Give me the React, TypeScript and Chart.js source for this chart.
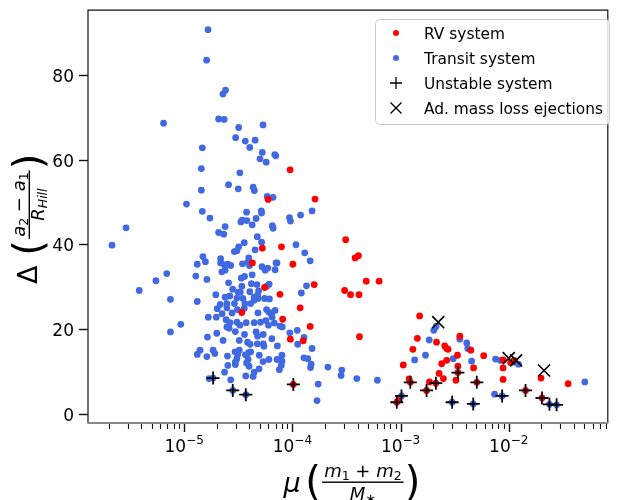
import React, { useEffect, useRef } from 'react';
import { Chart, registerables } from 'chart.js';

Chart.register(...registerables);

// ---- data ----
const transitMu = [
  1.66e-5, 1.61e-5, 2.28e-5, 2.41e-5, 6.44e-6, 2.08e-5, 2.34e-5, 3.19e-5, 5.35e-5, 2.99e-5,
  3.67e-5, 4.52e-5, 4.04e-5, 1.47e-5, 5.27e-5, 5.02e-5, 5.73e-5, 6.87e-5, 7.02e-5, 1.44e-5,
  3.27e-5, 2.57e-5, 3.16e-5, 1.44e-5, 4.34e-5, 4.45e-5, 1.05e-5, 5.85e-5, 6.63e-5, 1.47e-5,
  3.77e-5, 5.16e-5, 5.19e-5, 1.52e-4, 1.73e-5, 3.34e-5, 3.44e-5, 3.79e-5, 4.25e-5, 4.62e-5,
  9.4e-5, 9.6e-5, 1.19e-4, 6.53e-5, 6.63e-5, 2.9e-6, 2.39e-5, 2.08e-5, 2.32e-5, 4.74e-5,
  2.15e-6, 5.19e-5, 1.08e-4, 3.59e-5, 3.19e-5, 3.07e-5, 4.52e-5, 1.30e-4, 1.46e-4, 7.21e-5,
  1.21e-4, 1.35e-4, 1.11e-4, 1.28e-4, 1.12e-4, 1.52e-4, 1.28e-4, 1.39e-4, 1.49e-4, 1.47e-4,
  2.13e-4, 2.86e-4, 2.82e-4, 3.94e-4, 6.11e-4, 1.73e-4, 1.69e-4, 2.03e-3, 2.13e-3, 1.84e-3,
  3.53e-3, 4.09e-3, 4.18e-3, 1.70e-3, 1.35e-3, 3.07e-3, 4.54e-3, 7.55e-3, 1.23e-2, 1.12e-2,
  5.05e-2, 7.4e-3, 8.69e-3, 1.02e-3, 3.0e-3, 4.7e-3, 2.38e-2, 2.77e-2, 8.34e-3, 3.84e-6,
  5.48e-6, 6.9e-6, 7.46e-6, 7.46e-6, 9.29e-6, 1.32e-5, 1.49e-5, 1.32e-5, 1.28e-5, 1.62e-5,
  1.57e-5, 1.96e-5, 1.67e-5, 1.64e-5, 2.0e-5, 1.32e-5, 1.40e-5, 1.62e-5, 1.85e-5, 1.92e-5,
  2.36e-5, 2.69e-5, 2.53e-5, 2.51e-5, 2.91e-5, 2.17e-5, 2.17e-5, 2.53e-5, 2.69e-5, 2.34e-5,
  3.46e-5, 3.95e-5, 3.85e-5, 4.01e-5, 2.39e-5, 2.23e-5, 5.24e-5, 5.61e-5, 5.93e-5, 6.92e-5,
  7.06e-5, 2.57e-5, 3.37e-5, 3.61e-5, 4.25e-5, 4.18e-5, 4.71e-5, 5.81e-5, 6.1e-5, 3.41e-5,
  3.30e-5, 3.16e-5, 2.81e-5, 4.87e-5, 4.04e-5, 2.39e-5, 2.64e-5, 3.07e-5, 3.49e-5, 4.43e-5,
  4.81e-5, 5.53e-5, 6.14e-5, 4.77e-5, 2.15e-5, 2.24e-5, 2.02e-5, 1.98e-5, 2.48e-5, 2.48e-5,
  2.44e-5, 2.77e-5, 2.65e-5, 2.91e-5, 3.10e-5, 3.64e-5, 3.59e-5, 3.07e-5, 3.27e-5, 3.74e-5,
  2.60e-5, 2.48e-5, 2.97e-5, 3.61e-5, 2.29e-5, 3.23e-5, 4.12e-5, 4.43e-5, 4.81e-5, 5.08e-5,
  4.43e-5, 4.62e-5, 4.77e-5, 5.38e-5, 5.77e-5, 6.06e-5, 6.4e-5, 5.69e-5, 6.01e-5, 6.5e-5,
  6.82e-5, 6.92e-5, 7.68e-5, 8.06e-5, 9.47e-5, 6.46e-5, 3.85e-5, 4.07e-5, 4.74e-5, 5.38e-5,
  5.46e-5, 7.26e-5, 2.95e-5, 3.23e-5, 3.12e-5, 3.67e-5, 3.93e-5, 4.12e-5, 4.94e-5, 8.01e-5,
  7.21e-5, 8.01e-5, 7.89e-5, 7.57e-5, 6.06e-5, 5.35e-5, 3.90e-5, 3.77e-5, 3.98e-5, 2.97e-5,
  3.07e-5, 2.97e-5, 4.92e-5, 4.43e-5, 4.34e-5, 3.71e-5, 1.70e-5, 1.85e-5, 2.81e-5, 3.71e-5,
];
const transitDelta = [
  90.7, 83.5, 75.5, 76.4, 68.6, 69.6, 69.5, 67.6, 68.2, 65.2,
  64.4, 64.6, 62.9, 62.8, 61.7, 60.2, 59.4, 61.2, 60.9, 57.9,
  56.9, 54.1, 53.1, 52.8, 53.5, 52.7, 49.5, 51.3, 51.1, 47.8,
  47.6, 47.9, 47.4, 47.9, 46.2, 45.3, 45.7, 45.6, 44.6, 46.1,
  46.3, 45.5, 46.9, 44.4, 43.8, 43.9, 44.2, 42.8, 42.4, 41.8,
  39.8, 40.5, 39.9, 40.4, 39.4, 38.5, 38.7, 38.0, 36.1, 35.6,
  28.5, 30.2, 19.7, 18.0, 16.4, 15.4, 13.2, 13.0, 11.7, 10.9,
  11.0, 10.3, 9.0, 8.3, 7.9, 7.0, 3.1, 19.7, 20.6, 17.4,
  17.6, 16.7, 15.4, 13.8, 12.7, 13.0, 12.4, 12.9, 11.7, 12.2,
  7.5, 4.6, 4.2, 4.2, 2.7, 2.3, 2.2, 2.1, 12.6, 29.1,
  31.4, 33.1, 27.0, 19.3, 21.1, 35.3, 37.1, 26.5, 32.5, 31.7,
  35.9, 28.1, 22.8, 18.1, 19.0, 14.0, 15.0, 13.5, 15.0, 14.2,
  9.8, 8.0, 11.4, 13.6, 38.3, 36.6, 35.6, 35.3, 35.0, 35.2,
  35.4, 36.8, 35.7, 35.0, 33.9, 33.5, 34.7, 33.9, 34.4, 34.0,
  35.6, 30.9, 32.0, 32.4, 32.8, 30.7, 30.5, 30.1, 30.6, 30.1,
  28.7, 28.7, 29.4, 29.0, 28.8, 27.5, 27.8, 27.3, 27.2, 27.5,
  27.2, 27.2, 27.1, 28.0, 25.8, 23.6, 24.8, 22.8, 26.0, 25.0,
  22.2, 23.8, 21.5, 26.0, 24.6, 26.0, 24.9, 21.6, 20.9, 21.5,
  20.2, 20.5, 19.4, 18.7, 17.3, 17.3, 26.0, 26.8, 23.8, 21.6,
  21.5, 19.3, 18.3, 18.7, 24.6, 24.0, 23.5, 22.0, 20.9, 22.8,
  21.4, 24.4, 20.7, 20.5, 19.1, 17.7, 16.9, 16.4, 16.5, 16.5,
  15.9, 16.0, 14.6, 15.0, 14.0, 13.9, 14.4, 14.6, 13.8, 13.8,
  12.8, 12.4, 11.4, 10.4, 12.8, 12.3, 12.8, 12.0, 11.2, 12.2,
  13.0, 11.6, 10.6, 9.8, 8.8, 8.9, 8.3, 8.4, 5.5, 4.5,
];

const rvMu = [
  9.53e-5, 5.97e-5, 1.62e-4, 3.11e-4, 5.27e-5, 7.93e-5, 1.01e-4, 3.8e-4, 4.08e-4, 4.82e-4,
  6.34e-4, 1.59e-4, 3.04e-4, 3.45e-4, 4.13e-4, 1.18e-4, 4.17e-4, 1.46e-4, 1.26e-4, 4.27e-5,
  5.53e-5, 7.68e-5, 8.13e-5, 9.57e-5, 3.41e-5, 1.50e-3, 1.43e-3, 2.15e-3, 3.53e-3, 4.47e-3,
  2.56e-3, 2.67e-3, 2.75e-3, 1.30e-3, 3.36e-3, 2.67e-3, 2.40e-3, 5.87e-3, 8.87e-3, 1.04e-2,
  1.12e-2, 1.06e-3, 3.39e-3, 4.73e-3, 8.87e-3, 1.99e-2, 2.27e-3, 2.49e-3, 3.25e-3, 8.87e-3,
  3.54e-2, 1.85e-3, 1.20e-3, 1.02e-4, 1.23e-3, 2.12e-3, 3.39e-3, 5.07e-3, 1.74e-3, 1.43e-2,
  9.23e-4, 2.03e-2, 9.55e-4,
];
const rvDelta = [
  57.6, 50.6, 50.7, 41.1, 39.1, 39.4, 35.3, 36.8, 37.3, 31.3,
  31.3, 30.5, 29.1, 28.1, 28.1, 25.0, 18.2, 20.6, 17.2, 35.6,
  29.8, 28.2, 22.3, 17.6, 23.9, 23.1, 17.8, 16.9, 18.3, 15.0,
  16.0, 15.4, 15.2, 15.2, 13.8, 12.6, 11.8, 13.7, 12.7, 12.1,
  12.6, 11.5, 11.2, 10.8, 10.8, 8.4, 9.5, 8.3, 7.9, 8.1,
  7.1, 7.5, 8.2, 6.9, 7.4, 7.2, 9.7, 7.4, 5.5, 5.5,
  2.7, 3.7, 3.1,
];

const unstableMu = [
  1.85e-5, 2.81e-5, 3.71e-5, 1.02e-3, 3.0e-3, 4.7e-3, 8.69e-3, 2.38e-2, 2.77e-2,
  1.02e-4, 1.23e-3, 2.12e-3, 3.39e-3, 5.07e-3, 1.74e-3, 1.43e-2, 9.23e-4, 2.03e-2,
];
const unstableDelta = [
  8.4, 5.5, 4.5, 4.2, 2.7, 2.3, 4.2, 2.2, 2.1,
  6.9, 7.4, 7.2, 9.7, 7.4, 5.5, 5.5, 2.7, 3.7,
];

const ejectMu = [2.23e-3, 1.0e-2, 1.17e-2, 2.12e-2];
const ejectDelta = [21.6, 13.1, 12.6, 10.2];

const yTickValues = [0, 20, 40, 60, 80];
const yTickLabels = ['0', '20', '40', '60', '80'];
const xTickValues = [1e-5, 1e-4, 1e-3, 1e-2];
const xTickExponents = ['\u22125', '\u22124', '\u22123', '\u22122'];
const legendLabels = ['RV system', 'Transit system', 'Unstable system', 'Ad. mass loss ejections'];

const RED = '#ff0000';
const BLUE = '#4169e1';
const FONT = '"DejaVu Sans"';

type Seg = { t: string; size: number; italic?: boolean; dy?: number };

function segFont(s: Seg) {
  return `${s.italic ? 'italic ' : ''}${s.size}px ${FONT}`;
}
function segsWidth(ctx: CanvasRenderingContext2D, segs: Seg[]) {
  let w = 0;
  for (const s of segs) {
    ctx.font = segFont(s);
    w += ctx.measureText(s.t).width;
  }
  return w;
}
function drawSegs(ctx: CanvasRenderingContext2D, segs: Seg[], x: number, baseline: number) {
  let cx = x;
  for (const s of segs) {
    ctx.font = segFont(s);
    ctx.fillText(s.t, cx, baseline + (s.dy || 0));
    cx += ctx.measureText(s.t).width;
  }
}

const decorPlugin = {
  id: 'decor',
  afterDraw(chart: any) {
    const ctx: CanvasRenderingContext2D = chart.ctx;
    const { left, right, top, bottom } = chart.chartArea;
    const xs = chart.scales.x;
    const ys = chart.scales.y;
    ctx.save();
    ctx.fillStyle = '#000';
    ctx.strokeStyle = '#000';
    ctx.textBaseline = 'alphabetic';

    // spines
    ctx.lineWidth = 1.2;
    ctx.strokeStyle = '#111';
    ctx.beginPath();
    ctx.moveTo(left, bottom);
    ctx.lineTo(left, top);
    ctx.lineTo(right, top);
    ctx.lineTo(right, bottom);
    ctx.stroke();
    ctx.strokeStyle = '#888';
    ctx.lineWidth = 2;
    ctx.beginPath();
    ctx.moveTo(left - 0.5, bottom);
    ctx.lineTo(right + 0.5, bottom);
    ctx.stroke();

    // y ticks
    ctx.strokeStyle = '#111';
    ctx.lineWidth = 1.4;
    ctx.font = `17px ${FONT}`;
    ctx.textAlign = 'right';
    yTickValues.forEach((v, i) => {
      const py = Math.round(ys.getPixelForValue(v)) + 0.5;
      ctx.beginPath();
      ctx.moveTo(left - 9, py);
      ctx.lineTo(left, py);
      ctx.stroke();
      ctx.fillText(yTickLabels[i], left - 14, py + 6);
    });

    // x ticks (major + minor)
    const minX = xs.min;
    const maxX = xs.max;
    for (let e = -7; e <= 0; e++) {
      for (let m = 1; m <= 9; m++) {
        const v = m * Math.pow(10, e);
        if (v < minX || v > maxX) continue;
        const px = Math.round(xs.getPixelForValue(v)) + 0.5;
        const major = m === 1;
        ctx.lineWidth = major ? 1.4 : 1.1;
        ctx.beginPath();
        ctx.moveTo(px, bottom + 1);
        ctx.lineTo(px, bottom + (major ? 9 : 6));
        ctx.stroke();
      }
    }
    ctx.textAlign = 'left';
    xTickValues.forEach((v, i) => {
      const px = xs.getPixelForValue(v);
      const segs: Seg[] = [
        { t: '10', size: 17 },
        { t: xTickExponents[i], size: 12, dy: -8 },
      ];
      const w = segsWidth(ctx, segs);
      drawSegs(ctx, segs, px - w / 2, 452);
    });

    // x axis label
    const xc = (left + right) / 2;
    const xNum: Seg[] = [
      { t: 'm', size: 18, italic: true },
      { t: '1', size: 12.5, dy: 3 },
      { t: ' + ', size: 18 },
      { t: 'm', size: 18, italic: true },
      { t: '2', size: 12.5, dy: 3 },
    ];
    const xDen: Seg[] = [
      { t: 'M', size: 18, italic: true },
      { t: '\u2217', size: 13, dy: 3 },
    ];
    const fcx = xc + 15;
    const nw = segsWidth(ctx, xNum);
    const dw = segsWidth(ctx, xDen);
    const bw = Math.max(nw, dw) + 4;
    drawSegs(ctx, xNum, fcx - nw / 2, 477);
    drawSegs(ctx, xDen, fcx - dw / 2, 500);
    ctx.fillRect(fcx - bw / 2, 481.5, bw, 1.4);
    ctx.font = `italic 27px ${FONT}`;
    ctx.textAlign = 'center';
    ctx.fillText('\u03bc', fcx - bw / 2 - 30, 492);
    ctx.font = `40px ${FONT}`;
    ctx.fillText('(', fcx - bw / 2 - 9, 495);
    ctx.fillText(')', fcx + bw / 2 + 9, 495);

    // y axis label (rotated)
    ctx.save();
    ctx.rotate(-Math.PI / 2);
    const yc = (top + bottom) / 2;
    const fu = -(yc - 12); // fraction center along axis
    const yNum: Seg[] = [
      { t: 'a', size: 18, italic: true },
      { t: '2', size: 12.5, dy: 3 },
      { t: ' \u2212 ', size: 18 },
      { t: 'a', size: 18, italic: true },
      { t: '1', size: 12.5, dy: 3 },
    ];
    const yDen: Seg[] = [
      { t: 'R', size: 18, italic: true },
      { t: 'Hill', size: 12.5, italic: true, dy: 3 },
    ];
    ctx.textAlign = 'left';
    const ynw = segsWidth(ctx, yNum);
    const ydw = segsWidth(ctx, yDen);
    const ybw = Math.max(ynw, ydw) + 4;
    drawSegs(ctx, yNum, fu - ynw / 2, 25);
    drawSegs(ctx, yDen, fu - ydw / 2, 44);
    ctx.fillRect(fu - ybw / 2, 28.6, ybw, 1.4);
    ctx.textAlign = 'center';
    ctx.font = `40px ${FONT}`;
    ctx.fillText('(', fu - ybw / 2 - 9, 42);
    ctx.fillText(')', fu + ybw / 2 + 9, 42);
    ctx.font = `27px ${FONT}`;
    ctx.fillText('\u0394', fu - ybw / 2 - 36, 37);
    ctx.restore();

    // legend
    const lx = 375, ly = 19, lw = 234, lh = 105;
    ctx.beginPath();
    if ((ctx as any).roundRect) (ctx as any).roundRect(lx + 0.5, ly + 0.5, lw, lh, 4);
    else ctx.rect(lx + 0.5, ly + 0.5, lw, lh);
    ctx.fillStyle = 'rgba(255,255,255,0.85)';
    ctx.fill();
    ctx.strokeStyle = '#cccccc';
    ctx.lineWidth = 1;
    ctx.stroke();
    const mx = 396;
    const rows = [33, 58, 83, 108];
    ctx.fillStyle = RED;
    ctx.beginPath();
    ctx.arc(mx, rows[0], 3, 0, Math.PI * 2);
    ctx.fill();
    ctx.fillStyle = BLUE;
    ctx.beginPath();
    ctx.arc(mx, rows[1], 3, 0, Math.PI * 2);
    ctx.fill();
    ctx.strokeStyle = '#000';
    ctx.lineWidth = 1.3;
    ctx.beginPath();
    ctx.moveTo(mx - 6, rows[2]);
    ctx.lineTo(mx + 6, rows[2]);
    ctx.moveTo(mx, rows[2] - 6);
    ctx.lineTo(mx, rows[2] + 6);
    ctx.moveTo(mx - 5.5, rows[3] - 5.5);
    ctx.lineTo(mx + 5.5, rows[3] + 5.5);
    ctx.moveTo(mx - 5.5, rows[3] + 5.5);
    ctx.lineTo(mx + 5.5, rows[3] - 5.5);
    ctx.stroke();
    ctx.fillStyle = '#000';
    ctx.font = `15.4px ${FONT}`;
    ctx.textAlign = 'left';
    legendLabels.forEach((lab, i) => {
      ctx.fillText(lab, 424, rows[i] + 6);
    });

    ctx.restore();
  },
};

export default function App() {
  const canvasRef = useRef<HTMLCanvasElement | null>(null);

  useEffect(() => {
    const canvas = canvasRef.current;
    if (!canvas) return;
    const pts = (xs: number[], ys: number[]) => xs.map((x, i) => ({ x, y: ys[i] }));
    const chart = new Chart(canvas, {
      type: 'scatter',
      data: {
        datasets: [
          {
            label: legendLabels[3],
            data: pts(ejectMu, ejectDelta),
            pointStyle: 'crossRot',
            pointRadius: 8.5,
            borderColor: '#000',
            backgroundColor: '#000',
            pointBorderWidth: 1.7,
            order: 0,
          },
          {
            label: legendLabels[2],
            data: pts(unstableMu, unstableDelta),
            pointStyle: 'cross',
            pointRadius: 6.5,
            borderColor: '#000',
            backgroundColor: '#000',
            pointBorderWidth: 1.8,
            order: 1,
          },
          {
            label: legendLabels[0],
            data: pts(rvMu, rvDelta),
            pointStyle: 'circle',
            pointRadius: 3.4,
            pointBorderWidth: 0,
            borderColor: RED,
            backgroundColor: RED,
            order: 2,
          },
          {
            label: legendLabels[1],
            data: pts(transitMu, transitDelta),
            pointStyle: 'circle',
            pointRadius: 3.4,
            pointBorderWidth: 0,
            borderColor: BLUE,
            backgroundColor: BLUE,
            order: 3,
          },
        ],
      } as any,
      options: {
        animation: false,
        responsive: false,
        maintainAspectRatio: false,
        events: [],
        layout: { padding: { left: 88, right: 2, top: 10, bottom: 77 } },
        scales: {
          x: { type: 'logarithmic', min: 1.29e-6, max: 0.0824, display: false },
          y: { type: 'linear', min: -2.2, max: 95.3, display: false },
        },
        plugins: { legend: { display: false }, tooltip: { enabled: false } },
      } as any,
      plugins: [decorPlugin],
    });
    return () => chart.destroy();
  }, []);

  return (
    <div style={{ position: 'fixed', left: 0, top: 0, width: 618, height: 500, background: '#fff' }}>
      <canvas ref={canvasRef} width={618} height={500} style={{ width: 618, height: 500, display: 'block' }} />
    </div>
  );
}
